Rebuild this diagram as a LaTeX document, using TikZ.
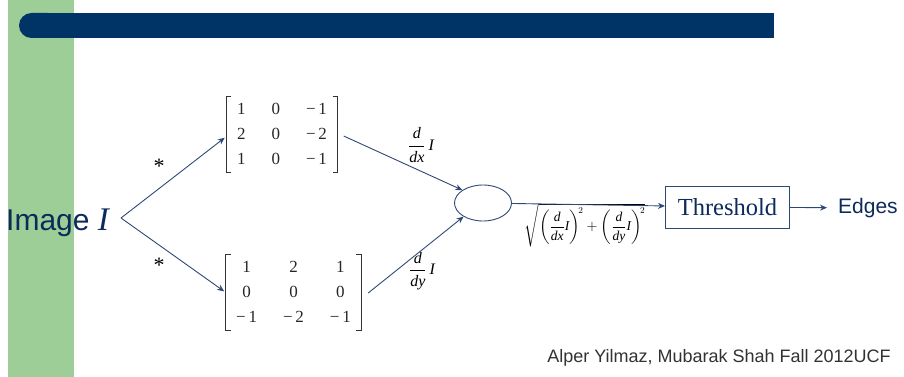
\documentclass[tikz,border=0pt]{standalone}
\usepackage{fontspec}
\usepackage{amsmath}
\setmainfont{Liberation Serif}
\setsansfont{Liberation Sans}
\usetikzlibrary{arrows.meta,shapes.geometric,calc}
\definecolor{sidegreen}{RGB}{157,206,152}
\definecolor{barblue}{RGB}{0,51,102}
\definecolor{linecol}{RGB}{45,72,118}
\definecolor{navytext}{RGB}{12,42,90}
\definecolor{foot}{RGB}{50,50,50}
\newcommand{\tn}[1]{\text{#1}}
\newcommand{\mneg}[1]{\text{−\,#1}}
\begin{document}
\begin{tikzpicture}[x=1pt,y=-1pt,
  conn/.style={draw=linecol,line width=0.9pt,-{Stealth[length=7pt,width=6pt]}},
  mat/.style={inner sep=0pt,font=\fontsize{17}{25}\selectfont,text=black!85},
  brk/.style={draw=black!80,line width=1.1pt},
  lbl/.style={inner sep=0pt,font=\fontsize{16}{18}\selectfont},
  starlbl/.style={inner sep=0pt,font=\fontsize{22}{24}\selectfont},
  boxnode/.style={draw=linecol,line width=1pt,minimum width=124pt,minimum height=42pt,inner sep=0pt,
     text=navytext,font=\fontsize{24.5}{27}\selectfont}]
\useasboundingbox (0,0) rectangle (904,377);
% background decorations
\fill[sidegreen] (8,0) rectangle (74,377);
\fill[barblue,rounded corners=12.5pt] (19,13) rectangle (60,38);
\fill[barblue] (40,13) rectangle (774,38);
% nodes
\node[anchor=base west,inner sep=0pt,text=navytext] (img) at (6,230)
  {\fontsize{30}{32}\selectfont\sffamily Image\ \fontsize{33}{35}\selectfont\rmfamily\itshape I};
\coordinate (fork) at (121,218);
\node[mat,minimum width=111pt,minimum height=71pt] (mx) at (282,134.5)
  {\setlength{\arraycolsep}{13pt}$\begin{matrix}\tn{1} & \tn{0} & \mneg{1}\\ \tn{2} & \tn{0} & \mneg{2}\\ \tn{1} & \tn{0} & \mneg{1}\end{matrix}$};
\node[mat,minimum width=135pt,minimum height=69pt] (my) at (293.5,292.5)
  {\setlength{\arraycolsep}{13pt}$\begin{matrix}\tn{1} & \tn{2} & \tn{1}\\ \tn{0} & \tn{0} & \tn{0}\\ \mneg{1} & \mneg{2} & \mneg{1}\end{matrix}$};
\draw[brk] ([xshift=5pt]mx.north west) -- (mx.north west) -- (mx.south west) -- ([xshift=5pt]mx.south west);
\draw[brk] ([xshift=-5pt]mx.north east) -- (mx.north east) -- (mx.south east) -- ([xshift=-5pt]mx.south east);
\draw[brk] ([xshift=5pt]my.north west) -- (my.north west) -- (my.south west) -- ([xshift=5pt]my.south west);
\draw[brk] ([xshift=-5pt]my.north east) -- (my.north east) -- (my.south east) -- ([xshift=-5pt]my.south east);
\node[starlbl] (s1) at (159,166) {*};
\node[starlbl] (s2) at (159,265) {*};
\node[draw=linecol,line width=0.9pt,ellipse,minimum width=57pt,minimum height=36pt,inner sep=0pt] (ell) at (483,203) {};
\node[lbl] (dx) at (421,145) {$\dfrac{\textit{d}}{\textit{dx}}\,\textit{I}$};
\node[lbl] (dy) at (422,271) {$\dfrac{\textit{d}}{\textit{dy}}\,\textit{I}$};
\node[inner sep=0pt,font=\fontsize{13.5}{15}\selectfont] (mag) at (585,225)
  {$\sqrt{\left(\dfrac{\textit{d}}{\textit{dx}}\textit{I}\right)^{\!2}+\left(\dfrac{\textit{d}}{\textit{dy}}\textit{I}\right)^{\!2}}$};
\node[boxnode] (thr) at (727.5,207) {Threshold};
\node[anchor=west,inner xsep=0pt,inner ysep=2pt,text=navytext,font=\fontsize{21}{24}\selectfont\sffamily] (edges) at (838,208) {Edges};
\node[inner sep=0pt,text=foot,font=\fontsize{18}{20}\selectfont\sffamily] (footer) at (719,358)
  {Alper Yilmaz, Mubarak Shah Fall 2012UCF};
% connectors
\draw[conn,shorten >=2pt] (fork) -- ($(mx.west)+(0,2)$);
\draw[conn,shorten >=2pt] (fork) -- (my.west);
\draw[conn] ($(mx.east)+(6,1.5)$) -- (ell.148);
\draw[conn] ($(my.east)+(7,0.5)$) -- (ell.215);
\draw[conn] (ell) -- (thr);
\draw[conn,shorten >=11pt] (thr) -- (edges);
\end{tikzpicture}
\end{document}
